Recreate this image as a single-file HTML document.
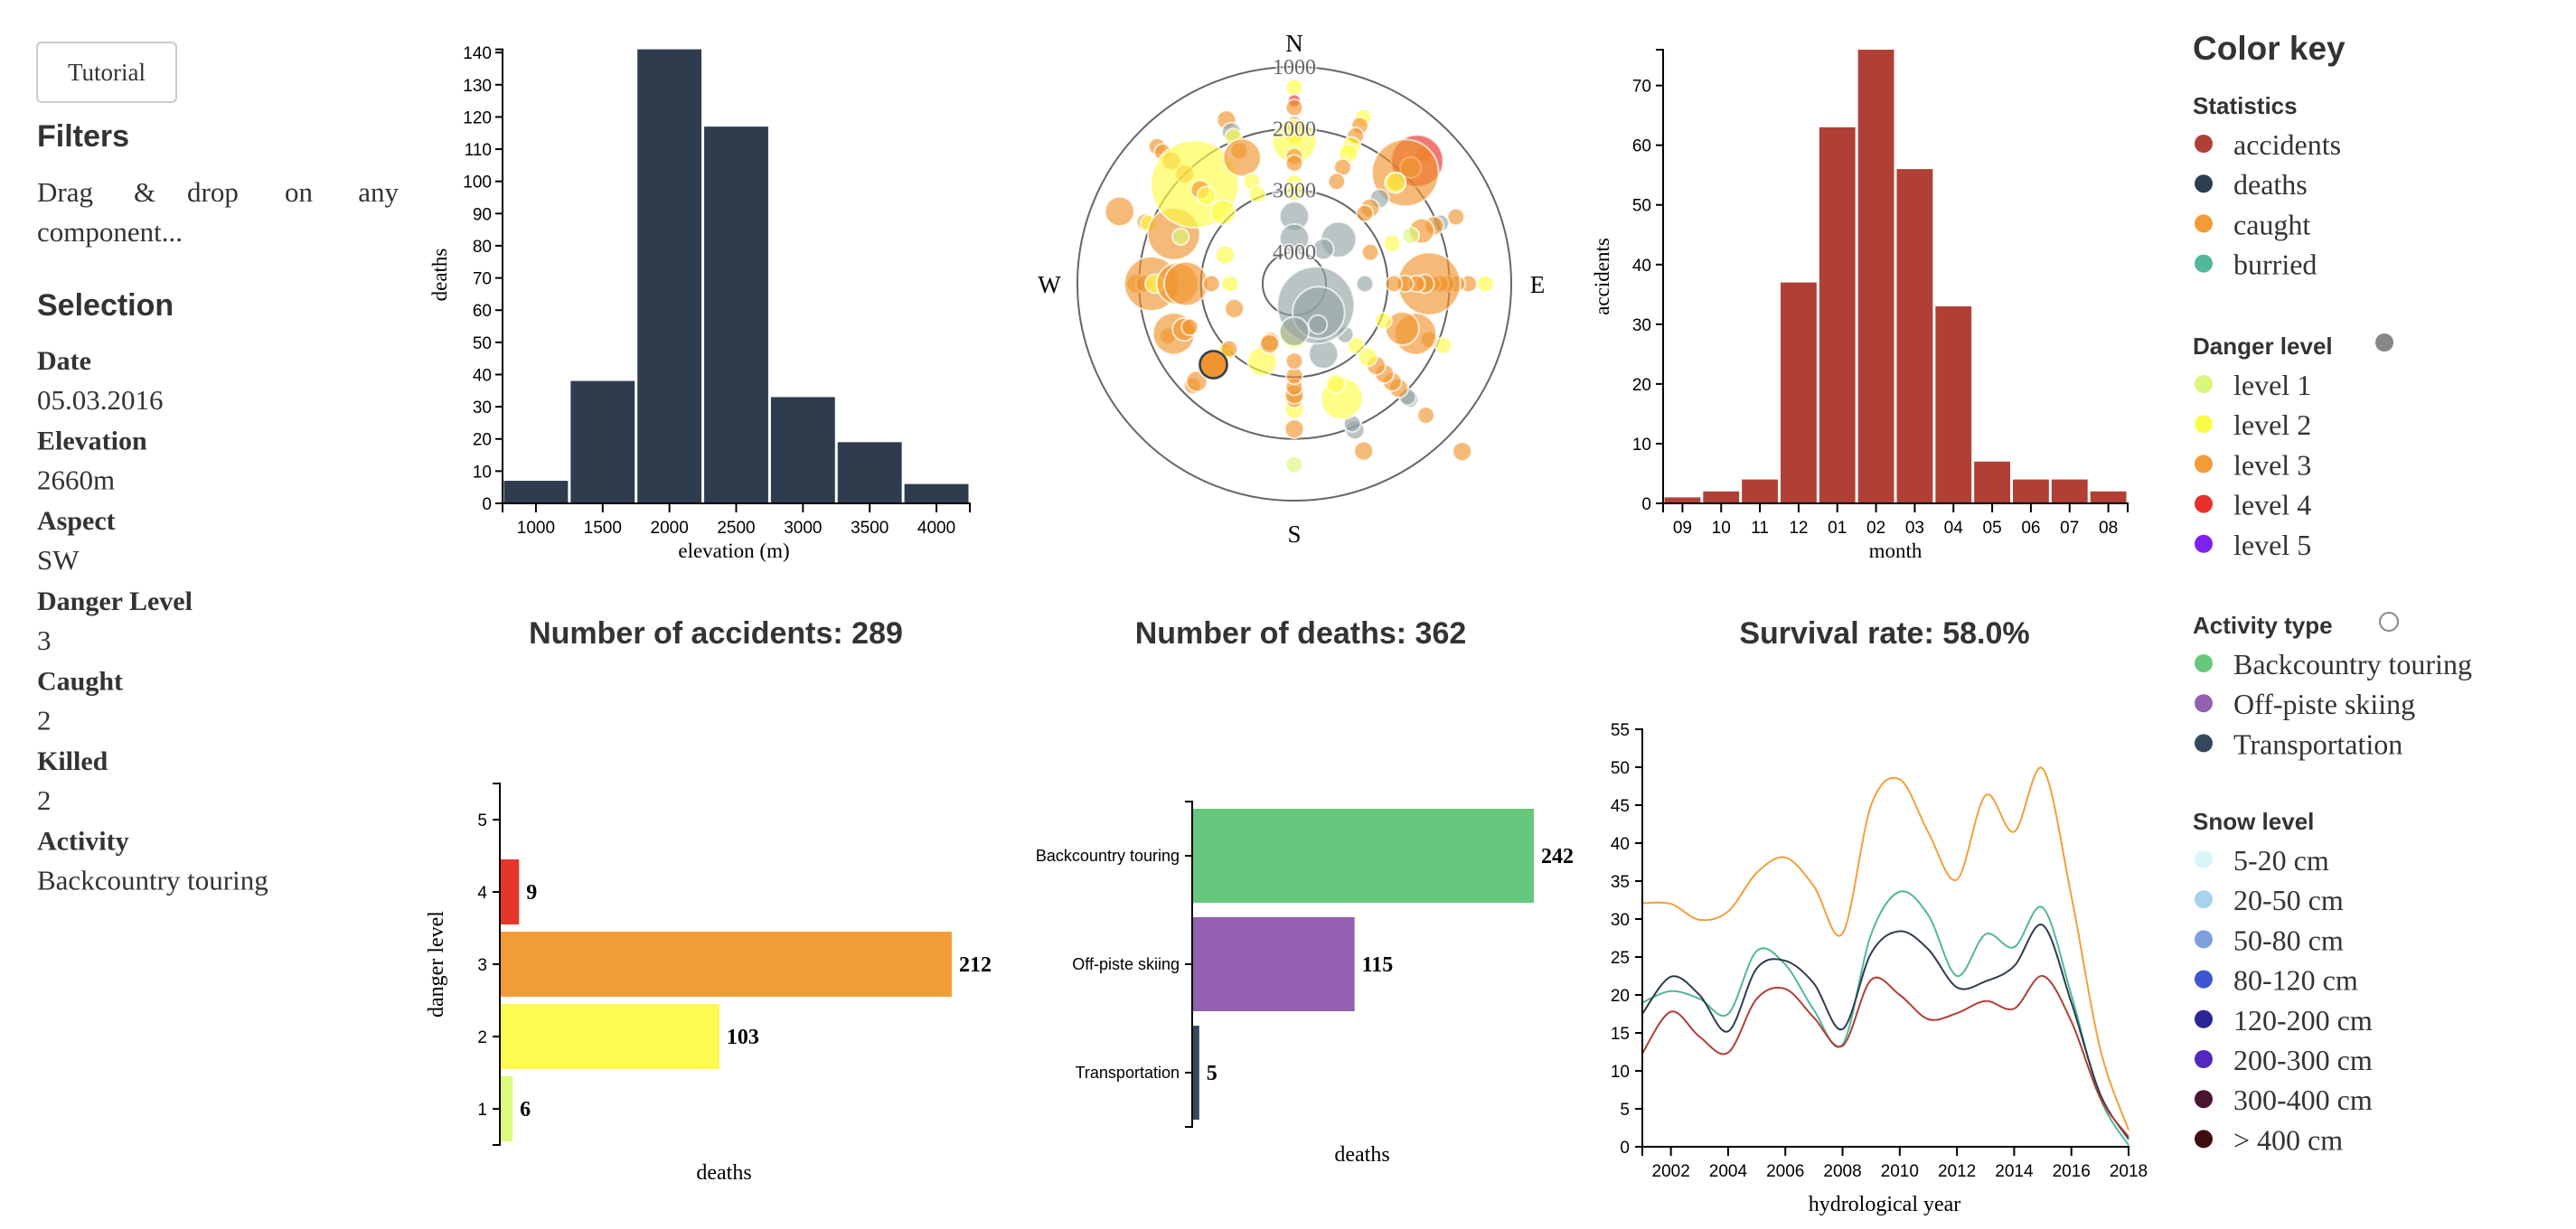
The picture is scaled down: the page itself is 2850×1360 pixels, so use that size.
<!DOCTYPE html>
<html><head><meta charset="utf-8">
<style>
html,body{margin:0;padding:0;background:#fff;}
svg{display:block;}
.sans{font-family:"Liberation Sans",sans-serif;}
.serif{font-family:"Liberation Serif",serif;}
</style></head>
<body>
<svg id="root" width="2850" height="1360" viewBox="0 0 2850 1360" xmlns="http://www.w3.org/2000/svg">
<g id="left">
  <rect x="41" y="47" width="154" height="66" rx="5" fill="#fff" stroke="#ccc" stroke-width="2"/>
  <text x="118" y="89" text-anchor="middle" class="serif" font-size="27" fill="#333">Tutorial</text>
  <text x="41" y="162" class="sans" font-weight="bold" font-size="34" fill="#333">Filters</text>
  <g class="serif" font-size="31" fill="#333">
    <text x="41" y="223">Drag</text><text x="148" y="223">&amp;</text><text x="207" y="223">drop</text><text x="315" y="223">on</text><text x="441" y="223" text-anchor="end">any</text>
    <text x="41" y="267">component...</text>
  </g>
  <text x="41" y="349" class="sans" font-weight="bold" font-size="34" fill="#333">Selection</text>
  <g id="sel" class="serif" font-size="30" fill="#333"></g>
</g>
<g id="hist"></g>
<g id="polar"></g>
<g id="month"></g>
<g class="sans" font-weight="bold" font-size="34" fill="#333" text-anchor="middle">
  <text x="792" y="712">Number of accidents: 289</text>
  <text x="1439" y="712">Number of deaths: 362</text>
  <text x="2085" y="712">Survival rate: 58.0%</text>
</g>
<g id="danger"></g>
<g id="activity"></g>
<g id="lines"></g>
<g id="legend"></g>
</svg>
<script>
// ---------- data ----------
var selLabels = ["Date","Elevation","Aspect","Danger Level","Caught","Killed","Activity"];
var selValues = ["05.03.2016","2660m","SW","3","2","2","Backcountry touring"];

var elevBins = [1000,1500,2000,2500,3000,3500,4000];
var elevDeaths = [7,38,141,117,33,19,6];
var elevTicks = [1000,1500,2000,2500,3000,3500,4000];
var elevYTicks = [0,10,20,30,40,50,60,70,80,90,100,110,120,130,140];

var months = ["09","10","11","12","01","02","03","04","05","06","07","08"];
var monthAcc = [1,2,4,37,63,76,56,33,7,4,4,2];
var monthYTicks = [0,10,20,30,40,50,60,70];

var dangerLevels = [1,2,3,4,5];
var dangerDeaths = [6,103,212,9,0];

var activities = ["Backcountry touring","Off-piste skiing","Transportation"];
var activityDeaths = [242,115,5];

var years = [2001,2002,2003,2004,2005,2006,2007,2008,2009,2010,2011,2012,2013,2014,2015,2016,2017,2018];
var caught =   [32.1,32,29.9,31,36.1,38.1,34.3,28.1,45,48.4,41.4,35.2,46.3,41.5,49.8,33,13,2.2];
var burried =  [19,20.5,19.5,17.5,25.8,24,18,13.5,28,33.6,30.5,22.5,28,26.3,31.5,20,6.5,0.2];
var deaths =   [17.5,22.4,20,15.2,23.5,24.5,21.5,15.5,25.5,28.4,26,21,21.8,23.8,29.2,19,7,1];
var accidents =[12.3,17.8,14.5,12.4,19.5,20.8,17,13.3,22,20,16.8,17.6,19.2,18.2,22.5,16.5,6.5,1.3];
var yearTicks = [2002,2004,2006,2008,2010,2012,2014,2016,2018];
var lineYTicks = [0,5,10,15,20,25,30,35,40,45,50,55];

// polar bubbles: aspect (deg), elevation (m), radius (px), danger level (0 = unknown)
var bubAspect = [0,0,0,0,0,0,0,0,0,0,0,0,0,
 22.5,22.5,22.5,22.5,22.5,22.5,22.5,
 45,45,45,45,45,45,45,45,45,
 67.5,67.5,67.5,67.5,67.5,67.5,67.5,
 90,90,90,90,90,90,90,90,90,90,90,90,
 112.5,112.5,112.5,112.5,112.5,
 135,135,135,135,135,135,135,135,135,135,135,
 157.5,157.5,157.5,157.5,157.5,157.5,
 180,180,180,180,180,180,180,180,180,
 202.5,202.5,202.5,
 225,225,225,225,225,225,
 247.5,247.5,247.5,247.5,247.5,
 270,270,270,270,270,270,270,270,
 292.5,292.5,292.5,292.5,292.5,292.5,
 315,315,315,315,315,315,315,315,
 337.5,337.5,337.5,337.5,337.5,337.5,337.5,
 45,40,135,140,150,180];
var bubElev = [1330,1550,1660,1950,2050,2130,2200,2450,2560,2880,3020,3420,3780,
 1600,1740,1920,2100,2230,2470,2720,
 1550,1700,1850,1970,2180,2200,2560,2780,2900,
 1680,1950,2060,2280,2470,2800,3180,
 1420,1690,1880,2050,2150,2280,2330,2400,2530,2720,2900,3370,
 1900,2150,2390,2620,2950,
 670,1500,1870,1920,2120,2270,2450,2640,2830,3100,3350,
 1580,1950,2060,2500,2760,3280,
 1580,2160,2480,2640,2720,2840,3020,3260,3700,
 3150,3500,3460,
 2180,2280,2660,2850,2950,3020,
 2300,2400,2580,2680,3460,
 1950,2080,2200,2250,2620,2760,3170,3470,
 1450,1900,1960,2400,2520,3300,
 1370,1500,1700,2000,2230,2360,2500,2880,
 1640,1850,1940,2180,2300,2720,2940,
 3500,3780,4020,3900,3750,3740];
var bubR = [8,6,8,9,10,8,21,8,8,8,9,14,14,
 8,8,8,9,9,8,8,
 8,25,10,32,9,10,9,9,8,
 8,8,9,12,8,8,8,
 8,8,8,8,8,8,30,9,8,8,8,8,
 8,8,20,16,8,
 9,8,8,8,9,9,9,9,9,8,8,
 9,9,8,20,9,14,
 8,9,9,8,9,8,8,8,14,
 14,9,9,
 8,10,15,9,8,8,
 8,20,11,8,9,
 9,8,26,9,20,21,8,8,
 14,8,8,25,8,9,
 8,8,9,9,42,9,9,12,
 9,9,8,8,18,8,8,
 17,10,37,25,9,14];
var bubLevel = [2,4,3,3,3,2,2,3,3,2,2,0,0,
 2,3,3,2,2,3,3,
 3,4,3,3,3,2,0,3,3,
 3,0,3,3,1,2,3,
 2,3,3,3,3,3,3,3,3,3,3,0,
 2,3,3,3,2,
 3,3,0,0,3,3,3,3,2,2,0,
 3,0,0,2,2,0,
 1,3,2,3,3,3,3,3,2,
 2,3,3,
 3,3,3,2,2,3,
 3,3,3,3,3,
 3,3,3,2,3,3,3,2,
 3,3,2,3,1,2,
 3,3,3,3,2,3,2,2,
 3,0,2,3,3,2,2,
 0,0,0,0,0,0];

// ---------- helpers ----------
var NS="http://www.w3.org/2000/svg";
function mk(parent, tag, attrs, txt){
  var e=document.createElementNS(NS,tag);
  for(var k in attrs) e.setAttribute(k, attrs[k]);
  if(txt!==undefined) e.textContent=txt;
  parent.appendChild(e); return e;
}
function lin(d0,d1,r0,r1){return function(v){return r0+(v-d0)*(r1-r0)/(d1-d0);};}
var AX = {stroke:"#000","stroke-width":2,fill:"none"};

// ---------- selection panel ----------
var sel=document.getElementById("sel");
for(var i=0;i<selLabels.length;i++){
  var t1=mk(sel,"text",{x:41,y:409+i*88.6,"font-weight":"bold"},selLabels[i]);
  
  
  var t2=mk(sel,"text",{x:41,y:453+i*88.6,"font-size":31},selValues[i]);
  
  
}

// ---------- elevation histogram ----------
(function(){
  var g=document.getElementById("hist");
  var x=lin(750,4250,556,1073), y=lin(0,141,557,54.6);
  for(var i=0;i<elevBins.length;i++){
    var r=mk(g,"rect",{x:x(elevBins[i]-250)+1.5,y:y(elevDeaths[i]),width:x(elevBins[i]+250)-x(elevBins[i]-250)-3,height:557-y(elevDeaths[i]),fill:"#2e3c4e"});
    
    
  }
  var ya=mk(g,"path",Object.assign({d:"M548,54.6H556V557H548"},AX));
  
  
  elevYTicks.forEach(function(v){
    mk(g,"line",{x1:548,x2:556,y1:y(v),y2:y(v),stroke:"#000","stroke-width":2});
    var t=mk(g,"text",{x:544,y:y(v)+7,"text-anchor":"end","font-size":19,"class":"sans"},v);
    
    
  });
  var xa=mk(g,"path",Object.assign({d:"M556,567V557H1073V567"},AX));
  
  
  elevTicks.forEach(function(v){
    mk(g,"line",{x1:x(v),x2:x(v),y1:557,y2:567,stroke:"#000","stroke-width":2});
    var t=mk(g,"text",{x:x(v),y:590,"text-anchor":"middle","font-size":19,"class":"sans"},v);
    
    
  });
  var xl=mk(g,"text",{x:812,y:617,"text-anchor":"middle","font-size":23,"class":"serif"},"elevation (m)");
  
  
  var yl=mk(g,"text",{transform:"translate(494,304) rotate(-90)","text-anchor":"middle","font-size":23,"class":"serif"},"deaths");
  
  
})();

// ---------- polar ----------
(function(){
  var g=document.getElementById("polar");
  var cx=1432, cy=314;
  var rr=lin(1000,4000,240,35);
  [1000,2000,3000,4000].forEach(function(e){
    var c=mk(g,"circle",{cx:cx,cy:cy,r:rr(e),fill:"none",stroke:"#666","stroke-width":2});
    
    
  });
  var colors={0:"#95a5a6",1:"#d9f77a",2:"#fcfc48",3:"#f0952e",4:"#e8302a",5:"#7f22f0"};
  var bg=mk(g,"g",{});
  for(var i=0;i<bubAspect.length;i++){
    var a=bubAspect[i]*Math.PI/180, d=rr(bubElev[i]);
    var c=mk(bg,"circle",{cx:cx+d*Math.sin(a),cy:cy-d*Math.cos(a),r:bubR[i]*1.15,fill:colors[bubLevel[i]],"fill-opacity":0.65,stroke:"#fff","stroke-opacity":0.7,"stroke-width":2});
    
    
  }
  var sa=225*Math.PI/180, sd=rr(2660);
  var sc=mk(g,"circle",{cx:cx+sd*Math.sin(sa),cy:cy-sd*Math.cos(sa),r:15,fill:"#f0952e",stroke:"#2c3e50","stroke-width":2.5});
  
  
  [1000,2000,3000,4000].forEach(function(e){
    var t=mk(g,"text",{x:cx,y:cy-rr(e)+8,"text-anchor":"middle","font-size":24,"class":"serif",fill:"#666",stroke:"#fff","stroke-width":4,"paint-order":"stroke","stroke-opacity":0.6},e);
    
    
  });
  [["N",cx,57],["S",cx,600],["W",1161,324],["E",1701,324]].forEach(function(p){
    var t=mk(g,"text",{x:p[1],y:p[2],"text-anchor":"middle","font-size":27,"class":"serif"},p[0]);
    
    
  });
})();

// ---------- month histogram ----------
(function(){
  var g=document.getElementById("month");
  var x0=1840, bw=(2354-1840)/months.length, y=lin(0,76,557,55);
  for(var i=0;i<months.length;i++){
    var r=mk(g,"rect",{x:x0+i*bw+1.5,y:y(monthAcc[i]),width:bw-3,height:557-y(monthAcc[i]),fill:"#b04035"});
    
    
    mk(g,"line",{x1:x0+(i+.5)*bw,x2:x0+(i+.5)*bw,y1:557,y2:567,stroke:"#000","stroke-width":2});
    var t=mk(g,"text",{x:x0+(i+.5)*bw,y:590,"text-anchor":"middle","font-size":19,"class":"sans"},months[i]);
    
    
  }
  var ya=mk(g,"path",Object.assign({d:"M1832,55H1840V557H1832"},AX));
  
  
  monthYTicks.forEach(function(v){
    mk(g,"line",{x1:1832,x2:1840,y1:y(v),y2:y(v),stroke:"#000","stroke-width":2});
    var t=mk(g,"text",{x:1827,y:y(v)+7,"text-anchor":"end","font-size":19,"class":"sans"},v);
    
    
  });
  var xa=mk(g,"path",Object.assign({d:"M1840,567V557H2354V567"},AX));
  
  
  var xl=mk(g,"text",{x:2097,y:617,"text-anchor":"middle","font-size":23,"class":"serif"},"month");
  
  
  var yl=mk(g,"text",{transform:"translate(1780,306) rotate(-90)","text-anchor":"middle","font-size":23,"class":"serif"},"accidents");
  
  
})();

// ---------- danger level bars ----------
(function(){
  var g=document.getElementById("danger");
  var x0=553, sx=500/212, top=867, bot=1267, bh=(bot-top)/5;
  var col={1:"#dcfa7c",2:"#fdfa50",3:"#f29c38",4:"#e8352a",5:"#7f22f0"};
  function yc(l){return bot-(l-0.5)*bh;}
  for(var i=0;i<dangerLevels.length;i++){
    var l=dangerLevels[i], v=dangerDeaths[i];
    mk(g,"line",{x1:545,x2:553,y1:yc(l),y2:yc(l),stroke:"#000","stroke-width":2});
    var tl=mk(g,"text",{x:539,y:yc(l)+7,"text-anchor":"end","font-size":19,"class":"sans"},l);
    
    
    if(v>0){
      var r=mk(g,"rect",{x:x0,y:yc(l)-bh*0.45,width:v*sx,height:bh*0.9,fill:col[l]});
      
      
      var t=mk(g,"text",{x:x0+v*sx+8,y:yc(l)+8,"font-size":24,"font-weight":"bold","class":"serif"},v);
      
      
    }
  }
  var ya=mk(g,"path",Object.assign({d:"M545,867H553V1267H545"},AX));
  
  
  var yl=mk(g,"text",{transform:"translate(490,1067) rotate(-90)","text-anchor":"middle","font-size":24,"class":"serif"},"danger level");
  
  
  var xl=mk(g,"text",{x:801,y:1305,"text-anchor":"middle","font-size":24,"class":"serif"},"deaths");
  
  
})();

// ---------- activity bars ----------
(function(){
  var g=document.getElementById("activity");
  var x0=1319, sx=378/242, top=887, bw=120;
  var col=["#66c87c","#935fb0","#34495e"];
  for(var i=0;i<activities.length;i++){
    var yc=top+(i+0.5)*bw;
    var r=mk(g,"rect",{x:x0,y:yc-52,width:activityDeaths[i]*sx,height:104,fill:col[i]});
    
    
    mk(g,"line",{x1:1311,x2:1319,y1:yc,y2:yc,stroke:"#000","stroke-width":2});
    var tl=mk(g,"text",{x:1305,y:yc+6,"text-anchor":"end","font-size":18,"class":"sans"},activities[i]);
    
    
    var t=mk(g,"text",{x:x0+activityDeaths[i]*sx+8,y:yc+8,"font-size":24,"font-weight":"bold","class":"serif"},activityDeaths[i]);
    
    
  }
  var ya=mk(g,"path",Object.assign({d:"M1311,887H1319V1247H1311"},AX));
  
  
  var xl=mk(g,"text",{x:1507,y:1285,"text-anchor":"middle","font-size":24,"class":"serif"},"deaths");
  
  
})();

// ---------- line chart ----------
(function(){
  var g=document.getElementById("lines");
  var x=lin(2001,2018,1817,2355), y=lin(0,55,1269,807);
  function path(vals){
    var p=vals.map(function(v,i){return [x(years[i]),y(v)];});
    var d="M"+p[0][0]+","+p[0][1];
    for(var i=0;i<p.length-1;i++){
      var p0=p[i>0?i-1:i],p1=p[i],p2=p[i+1],p3=p[i+2<p.length?i+2:i+1];
      var c1=[p1[0]+(p2[0]-p0[0])/6,p1[1]+(p2[1]-p0[1])/6];
      var c2=[p2[0]-(p3[0]-p1[0])/6,p2[1]-(p3[1]-p1[1])/6];
      d+="C"+c1+" "+c2+" "+p2;
    }
    return d;
  }
  var series=[[caught,"#f0a03c","line-caught"],[burried,"#52b89a","line-burried"],[deaths,"#2e3c4e","line-deaths"],[accidents,"#b04035","line-accidents"]];
  series.forEach(function(s){
    var p=mk(g,"path",{d:path(s[0]),fill:"none",stroke:s[1],"stroke-width":2});
    
    
  });
  var ya=mk(g,"path",Object.assign({d:"M1809,807H1817V1269"},AX));
  
  
  lineYTicks.forEach(function(v){
    mk(g,"line",{x1:1809,x2:1817,y1:y(v),y2:y(v),stroke:"#000","stroke-width":2});
    var t=mk(g,"text",{x:1803,y:y(v)+7,"text-anchor":"end","font-size":19,"class":"sans"},v);
    
    
  });
  var xa=mk(g,"path",Object.assign({d:"M1817,1279V1269H2355V1279"},AX));
  
  
  yearTicks.forEach(function(v){
    mk(g,"line",{x1:x(v),x2:x(v),y1:1269,y2:1279,stroke:"#000","stroke-width":2});
    var t=mk(g,"text",{x:x(v),y:1302,"text-anchor":"middle","font-size":19,"class":"sans"},v);
    
    
  });
  var xl=mk(g,"text",{x:2085,y:1340,"text-anchor":"middle","font-size":24,"class":"serif"},"hydrological year");
  
  
})();

// ---------- legend ----------
(function(){
  var g=document.getElementById("legend");
  var h=mk(g,"text",{x:2426,y:66,"font-size":37,"font-weight":"bold","class":"sans",fill:"#333"},"Color key");
  
  
  var groups=[
    ["Statistics",126,[["accidents","#b04035"],["deaths","#2c3e50"],["caught","#f29c38"],["burried","#52b89a"]],null],
    ["Danger level",392,[["level 1","#d9f77a"],["level 2","#fcfc48"],["level 3","#f29c38"],["level 4","#e8302a"],["level 5","#7f22f0"]],"fill"],
    ["Activity type",701,[["Backcountry touring","#66c87c"],["Off-piste skiing","#935fb0"],["Transportation","#34495e"]],"hollow"],
    ["Snow level",918,[["5-20 cm","#d8f6f6"],["20-50 cm","#a9d3ec"],["50-80 cm","#7d9fe0"],["80-120 cm","#3f56d3"],["120-200 cm","#2a2697"],["200-300 cm","#5328c0"],["300-400 cm","#4a1530"],["> 400 cm","#3d0d0f"]],null]
  ];
  groups.forEach(function(gr){
    var t=mk(g,"text",{x:2426,y:gr[1],"font-size":26,"font-weight":"bold","class":"sans",fill:"#333"},gr[0]);
    
    
    if(gr[3]==="fill"){
      var c=mk(g,"circle",{cx:2638,cy:gr[1]-13,r:10,fill:"#888"});
      
      
    } else if(gr[3]==="hollow"){
      var c2=mk(g,"circle",{cx:2643,cy:gr[1]-13,r:10,fill:"none",stroke:"#888","stroke-width":2});
      
      
    }
    gr[2].forEach(function(it,i){
      var yy=gr[1]+45+i*44.2;
      var d=mk(g,"ellipse",{cx:2438,cy:yy-12,rx:10,ry:10,fill:it[1]});
      
      
      var tt=mk(g,"text",{x:2471,y:yy,"font-size":32,"class":"serif",fill:"#333"},it[0]);
      
      
    });
  });
})();
</script>
</body></html>
